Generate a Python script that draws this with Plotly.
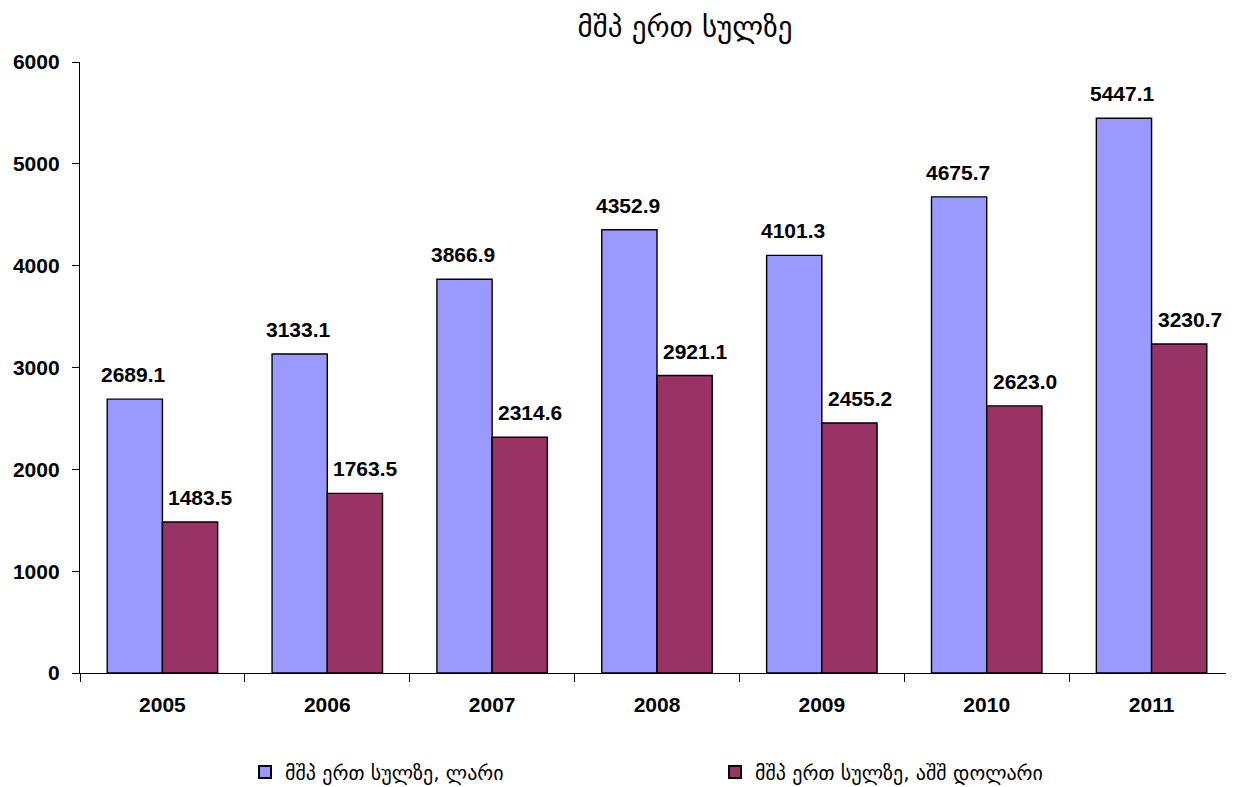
import plotly.graph_objects as go

years = ["2005", "2006", "2007", "2008", "2009", "2010", "2011"]
gdp_lari = [2689.1, 3133.1, 3866.9, 4352.9, 4101.3, 4675.7, 5447.1]
gdp_usd = [1483.5, 1763.5, 2314.6, 2921.1, 2455.2, 2623.0, 3230.7]
name_lari = "მშპ ერთ სულზე, ლარი"
name_usd = "მშპ ერთ სულზე, აშშ დოლარი"
title_text = "მშპ ერთ სულზე"

num_font = dict(family="Liberation Sans, Arial, sans-serif", size=21, color="black")
geo_font = "DejaVu Sans, sans-serif"

fig = go.Figure()
fig.add_trace(go.Bar(x=years, y=gdp_lari, name=name_lari,
                     marker=dict(color="#9999FF", line=dict(color="black", width=1.4))))
fig.add_trace(go.Bar(x=years, y=gdp_usd, name=name_usd,
                     marker=dict(color="#993366", line=dict(color="black", width=1.4))))

for i, v in enumerate(gdp_lari):
    fig.add_annotation(x=i, y=v, text="<b>%.1f</b>" % v, showarrow=False,
                       xshift=-29, yshift=11, yanchor="bottom", font=num_font)
for i, v in enumerate(gdp_usd):
    fig.add_annotation(x=i, y=v, text="<b>%.1f</b>" % v, showarrow=False,
                       xshift=38, yshift=11, yanchor="bottom", font=num_font)

# page body has an 8px margin, so the figure is drawn 8px right and down
W, H = 1226, 779
fig.update_layout(
    width=W, height=H,
    paper_bgcolor="white", plot_bgcolor="white",
    margin=dict(l=72, r=0, t=54, b=114, autoexpand=False),
    barmode="group", bargap=0.33, bargroupgap=0,
    title=dict(text=title_text, x=677/W, xanchor="center", y=1-19/H, yanchor="middle",
               font=dict(family=geo_font, size=29, color="black"), automargin=False),
    showlegend=True,
    legend=dict(orientation="h", x=0.143, xanchor="left", y=-0.162, yanchor="middle",
                font=dict(family=geo_font, size=20, color="black"),
                entrywidth=425, entrywidthmode="pixels", itemsizing="constant"),
    xaxis=dict(type="category", range=[-0.5, 6.5], showline=True, linecolor="black", linewidth=1.4,
               ticks="outside", tickson="boundaries", ticklen=8, tickcolor="black", tickwidth=1.4,
               automargin=False, ticklabelstandoff=13,
               tickfont=dict(family="Liberation Sans, Arial, sans-serif", size=21, color="black"),
               tickprefix="<b>", ticksuffix="</b>", showgrid=False),
    yaxis=dict(range=[0, 6000], dtick=1000, showline=True, linecolor="black", linewidth=1.4,
               ticks="outside", ticklen=7, tickcolor="black", tickwidth=1.4, showgrid=False,
               zeroline=False, automargin=False, ticklabelstandoff=8,
               tickfont=dict(family="Liberation Sans, Arial, sans-serif", size=21, color="black"),
               tickprefix="<b>", ticksuffix="</b>"),
)

fig.write_html("out.html")
